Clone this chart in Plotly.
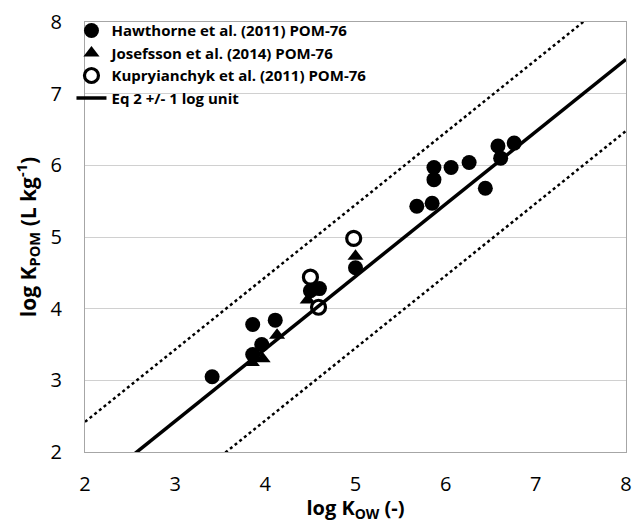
import plotly.graph_objects as go

# Hawthorne et al. (2011) POM-76
haw_x = [3.41, 3.86, 4.11, 3.96, 3.86, 4.50, 4.60, 5.00, 5.68, 5.85, 5.87, 5.87, 6.06, 6.26, 6.44, 6.58, 6.61, 6.76]
haw_y = [3.05, 3.78, 3.84, 3.50, 3.36, 4.25, 4.28, 4.57, 5.43, 5.47, 5.97, 5.80, 5.97, 6.04, 5.68, 6.27, 6.10, 6.31]
# Josefsson et al. (2014) POM-76
jos_x = [3.85, 3.97, 4.13, 4.47, 5.00]
jos_y = [3.25, 3.30, 3.63, 4.12, 4.73]
# Kupryianchyk et al. (2011) POM-76
kup_x = [4.50, 4.59, 4.98]
kup_y = [4.44, 4.02, 4.98]
# Eq 2 and +/- 1 log unit
eq_x = [2.0, 8.0]
eq_y = [1.42, 7.48]
eq_up_y = [2.42, 8.48]
eq_lo_y = [0.42, 6.48]

x_ticks = [2, 3, 4, 5, 6, 7, 8]
y_ticks = [2, 3, 4, 5, 6, 7, 8]

FONT = "Open Sans"

fig = go.Figure()
fig.add_trace(go.Scatter(x=haw_x, y=haw_y, mode="markers", name="Hawthorne et al. (2011) POM-76",
                         marker=dict(symbol="circle", size=15, color="black")))
fig.add_trace(go.Scatter(x=jos_x, y=jos_y, mode="markers", name="Josefsson et al. (2014) POM-76",
                         marker=dict(symbol="triangle-up", size=14, color="black")))
fig.add_trace(go.Scatter(x=kup_x, y=kup_y, mode="markers", name="Kupryianchyk et al. (2011) POM-76",
                         marker=dict(symbol="circle", size=14, color="white", line=dict(color="black", width=3.2))))
fig.add_trace(go.Scatter(x=eq_x, y=eq_y, mode="lines", name="Eq 2 +/- 1 log unit",
                         line=dict(color="black", width=3.5)))
fig.add_trace(go.Scatter(x=eq_x, y=eq_up_y, mode="lines", showlegend=False,
                         line=dict(color="black", width=2.5, dash="dot")))
fig.add_trace(go.Scatter(x=eq_x, y=eq_lo_y, mode="lines", showlegend=False,
                         line=dict(color="black", width=2.5, dash="dot")))

fig.update_layout(
    width=640, height=523,
    margin=dict(l=85, r=8, t=16, b=71),
    paper_bgcolor="white", plot_bgcolor="white",
    font=dict(family=FONT, color="black"),
    legend=dict(x=-0.025, y=1.018, xanchor="left", yanchor="top", bgcolor="rgba(0,0,0,0)",
                font=dict(family=FONT, size=15, color="black", weight="bold"),
                tracegroupgap=0, itemwidth=30),
)
fig.update_xaxes(range=[2, 8], tickvals=x_ticks, showgrid=False, zeroline=False,
                 showline=True, linecolor="#a6a6a6", linewidth=1.2, mirror=True,
                 ticks="", ticklabelstandoff=14, tickfont=dict(size=20, color="black"),
                 title=dict(text="log K<sub>OW</sub> (-)", font=dict(size=20, weight="bold"), standoff=4))
fig.update_yaxes(range=[2, 8], tickvals=y_ticks, showgrid=True, gridcolor="#d0d0d0", gridwidth=1,
                 zeroline=False, showline=True, linecolor="#a6a6a6", linewidth=1.2, mirror=True,
                 ticks="", ticklabelstandoff=18, tickfont=dict(size=20, color="black"),
                 title=dict(text="log K<sub>POM</sub> (L kg<sup>-1</sup>)", font=dict(size=21, weight="bold"), standoff=8))

fig.write_html("out.html")
